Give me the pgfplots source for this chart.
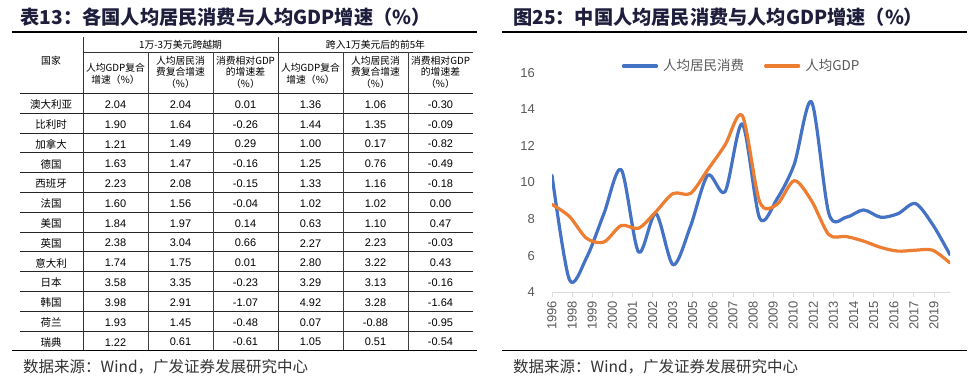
\documentclass[border=0pt]{standalone}
\usepackage{pgfplots}
\pgfplotsset{compat=1.18}
\usepackage{pgfplotstable}
\usepackage{fontspec}
\setmainfont{Liberation Sans}
\newfontfamily\cjk{Noto Sans CJK SC}
\definecolor{cblue}{HTML}{4472C4}
\definecolor{corange}{HTML}{ED7D31}
\definecolor{axgray}{HTML}{D9D9D9}
\definecolor{lblgray}{HTML}{595959}
\definecolor{titlec}{HTML}{1E1E3C}
\definecolor{srcc}{HTML}{333333}

\pgfplotstableread{
year cons gdp
1996 10.4 8.8
1997 4.7 8.15
1998 5.9 6.95
1999 8.3 6.75
2000 10.7 7.65
2001 6.2 7.5
2002 8.3 8.4
2003 5.5 9.4
2004 7.6 9.4
2005 10.4 10.7
2006 9.5 12.05
2007 13.2 13.65
2008 8.05 8.95
2009 9.1 8.8
2010 11.0 10.1
2011 14.4 9.0
2012 8.3 7.15
2013 8.1 7.05
2014 8.5 6.8
2015 8.1 6.45
2016 8.3 6.25
2017 8.85 6.3
2018 7.7 6.3
2019 6.05 5.6
}\chinadata

\begin{document}
\begin{tikzpicture}
\path[use as bounding box] (0pt,0pt) rectangle (977pt,-387pt);

\begin{scope}[x=1pt,y=-1pt]
% ---------- left panel: title ----------
\node[anchor=west,inner sep=0pt,text=titlec] at (20.5,17)
  {\cjk\bfseries\fontsize{19.2}{21}\selectfont 表13：各国人均居民消费与人均GDP增速（\%）};
\draw[line width=1.2pt] (12,32) -- (477,32);
% ---------- table lines ----------
\draw[line width=0.6pt,black!80] (83,52) -- (473,52);
\draw[line width=0.6pt,black!85] (20,93.3) -- (473,93.3);
\foreach \i in {1,...,12}{
  \draw[line width=0.6pt,black!85] (20,93.3+19.8*\i) -- (473,93.3+19.8*\i);
}
\draw[line width=0.6pt,black!80] (83,37) -- (83,350.7);
\draw[line width=0.6pt,black!80] (278,37) -- (278,350.7);
\foreach \xx in {148,213,343,408}{
  \draw[line width=0.6pt,black!75] (\xx,52) -- (\xx,350.7);
}
\draw[line width=1.2pt] (12,350.7) -- (477,350.7);
% ---------- table header ----------
\begin{scope}[every node/.style={inner sep=0pt,font=\cjk\fontsize{9.8}{12}\selectfont}]
\node at (51,61) {国家};
\node at (180.5,44.5) {1万-3万美元跨越期};
\node at (375.5,44.5) {跨入1万美元后的前5年};
\foreach \cx in {115.5,310.5}{
  \node at (\cx,67.5) {人均GDP复合};
  \node at (\cx,79.5) {增速（\%）};
}
\foreach \cx in {180.5,375.5}{
  \node at (\cx,60.5) {人均居民消};
  \node at (\cx,72) {费复合增速};
  \node at (\cx,83.5) {（\%）};
}
\foreach \cx in {245.5,440.5}{
  \node at (\cx,60.5) {消费相对GDP};
  \node at (\cx,72) {的增速差};
  \node at (\cx,83.5) {（\%）};
}
\end{scope}
% ---------- table body ----------
\foreach \nm/\a/\b/\c/\d/\e/\f [count=\i from 0] in {
  澳大利亚/2.04/2.04/0.01/1.36/1.06/-0.30,
  比利时/1.90/1.64/-0.26/1.44/1.35/-0.09,
  加拿大/1.21/1.49/0.29/1.00/0.17/-0.82,
  德国/1.63/1.47/-0.16/1.25/0.76/-0.49,
  西班牙/2.23/2.08/-0.15/1.33/1.16/-0.18,
  法国/1.60/1.56/-0.04/1.02/1.02/0.00,
  美国/1.84/1.97/0.14/0.63/1.10/0.47,
  英国/2.38/3.04/0.66/2.27/2.23/-0.03,
  意大利/1.74/1.75/0.01/2.80/3.22/0.43,
  日本/3.58/3.35/-0.23/3.29/3.13/-0.16,
  韩国/3.98/2.91/-1.07/4.92/3.28/-1.64,
  荷兰/1.93/1.45/-0.48/0.07/-0.88/-0.95,
  瑞典/1.22/0.61/-0.61/1.05/0.51/-0.54}{
  \pgfmathsetmacro{\yy}{104.6+19.8*\i}
  \node[inner sep=0pt,font=\cjk\fontsize{10.5}{12}\selectfont] at (51,\yy) {\nm};
  \begin{scope}[every node/.style={inner sep=0pt,font=\fontsize{11}{13}\selectfont}]
  \node at (115.5,\yy) {\a};
  \node at (180.5,\yy) {\b};
  \node at (245.5,\yy) {\c};
  \node at (310.5,\yy) {\d};
  \node at (375.5,\yy) {\e};
  \node at (440.5,\yy) {\f};
  \end{scope}
}
\node[anchor=west,inner sep=0pt,text=srcc] at (23,367)
  {\cjk\fontsize{15.5}{17}\selectfont 数据来源：Wind，广发证券发展研究中心};

% ---------- right panel: title and rules ----------
\node[anchor=west,inner sep=0pt,text=titlec] at (513,17)
  {\cjk\bfseries\fontsize{19.2}{21}\selectfont 图25：中国人均居民消费与人均GDP增速（\%）};
\draw[line width=1.2pt] (502,32) -- (967,32);
\draw[line width=1.2pt] (502,350.7) -- (967,350.7);
\node[anchor=west,inner sep=0pt,text=srcc] at (513,367)
  {\cjk\fontsize{15.5}{17}\selectfont 数据来源：Wind，广发证券发展研究中心};
\end{scope}

\begin{axis}[
  at={(552pt,-292.3pt)}, anchor=south west,
  scale only axis, width=398pt, height=219.6pt,
  xmin=1996, xmax=2019, ymin=4, ymax=16,
  axis x line*=bottom, axis y line*=left,
  y axis line style={draw=none},
  x axis line style={draw=axgray,line width=0.9pt},
  ytick={4,6,8,10,12,14,16},
  ytick style={draw=none},
  xtick={1996,1997.16187,1998.32374,1999.48561,2000.64748,2001.80935,2002.97122,2004.13309,2005.29496,2006.45683,2007.61870,2008.78057,2009.94244,2011.10431,2012.26618,2013.42805,2014.58992,2015.75179,2016.91366,2018.07553},
  xticklabels={1996,1998,1999,2000,2001,2002,2003,2005,2006,2007,2008,2009,2010,2012,2013,2014,2015,2016,2017,2019},
  xtick style={draw=axgray,line width=0.9pt},
  tick align=outside, major tick length=5pt,
  /pgf/number format/assume math mode=true,
  tick label style={font=\fontsize{13}{13}\selectfont, text=lblgray},
  xticklabel style={rotate=90, anchor=east},
  yticklabel style={inner sep=0pt, xshift=-12pt},
  legend columns=2,
  legend image code/.code={\draw[#1,line width=3.2pt,line cap=round] (0pt,0pt) -- (33pt,0pt);},
  legend style={draw=none, fill=none, inner sep=0pt, at={(0.175,1.0305)}, anchor=west,
    font=\cjk\fontsize{13.5}{14}\selectfont, text=lblgray,
    nodes={inner sep=0pt},
    /tikz/every odd column/.append style={column sep=5pt},
    /tikz/every even column/.append style={column sep=20pt}},
]
\addplot[cblue, line width=3.2pt, smooth, line cap=round, line join=round] table[x=year,y=cons] {\chinadata};
\addlegendentry{人均居民消费}
\addplot[corange, line width=3.2pt, smooth, line cap=round, line join=round] table[x=year,y=gdp] {\chinadata};
\addlegendentry{人均GDP}
\end{axis}
\end{tikzpicture}
\end{document}
